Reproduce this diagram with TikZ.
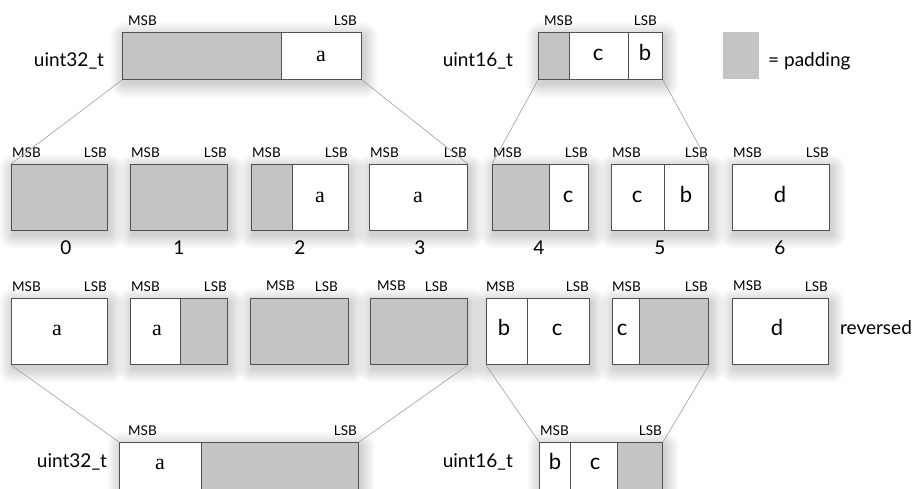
\documentclass[tikz,border=0pt]{standalone}
\usepackage{fontspec}
\setmainfont{Lato}
\newfontfamily\seriffont{Liberation Serif}
\usetikzlibrary{backgrounds}
\definecolor{pad}{HTML}{C4C4C4}
\definecolor{boxline}{HTML}{505050}
\definecolor{conn}{HTML}{A0A0A0}
\newcommand{\softshadow}[1]{%
  \foreach \k in {0,...,14}{%
    \fill[black, opacity=0.012, rounded corners=\k pt]
      ([xshift=2pt-\k pt, yshift=-4pt+\k pt]#1.north west) rectangle
      ([xshift=2pt+\k pt, yshift=-4pt-\k pt]#1.south east);
  }}
\begin{document}
\begin{tikzpicture}[x=1pt,y=-1pt,
  box/.style={draw=boxline, line width=1pt, fill=white, anchor=north west, inner sep=0pt},
  padcell/.style={draw=boxline, line width=1pt, fill=pad},
  divider/.style={draw=boxline, line width=1pt},
  conn/.style={draw=conn, line width=0.6pt},
  tag/.style={font=\fontsize{13.5}{13.5}\selectfont, inner sep=0pt},
  big/.style={font=\fontsize{19}{19}\selectfont, inner sep=0pt, anchor=base},
  let/.style={font=\fontsize{22}{22}\selectfont, inner sep=0pt, anchor=base},
  leta/.style={font=\seriffont\fontsize{22}{22}\selectfont, inner sep=0pt, anchor=base},
]
\useasboundingbox (0,0) rectangle (921,488);
\clip (0,0) rectangle (921,488);

% ---------- top row ----------
\node[box, minimum width=239pt, minimum height=47pt] (T32) at (122,32) {};
\draw[padcell] (122,32) rectangle (281,79);
\node[leta] (T32a) at (321,61) {a};
\node[big] (T32l) at (69,66) {uint32\_t};
\node[tag, anchor=west] (T32m) at (128,21) {MSB};
\node[tag, anchor=east] (T32s) at (357,21) {LSB};

\node[box, minimum width=124pt, minimum height=47pt] (T16) at (538,32) {};
\draw[padcell] (538,32) rectangle (569,79);
\draw[divider] (628,32) -- (628,79);
\node[let] (T16c) at (598,60) {c};
\node[let] (T16b) at (645,60) {b};
\node[big, anchor=base east] (T16l) at (513,66) {uint16\_t};
\node[tag, anchor=west] (T16m) at (544,21) {MSB};
\node[tag, anchor=east] (T16s) at (657,21) {LSB};

\node[fill=pad, minimum width=36pt, minimum height=47pt, inner sep=0pt, anchor=north west] (legend) at (723,32) {};
\node[big, anchor=base west] (legendt) at (768,66) {= padding};

% ---------- middle row ----------
\foreach \n/\x/\w in {B0/11/96, B1/130/97, B2/251/97, B3/369/98, B4/492/96, B5/611/97, B6/732/97}{
  \node[box, minimum width=\w pt, minimum height=66pt] (\n) at (\x,164) {};
  \node[tag, anchor=west] (\n m) at (\x+1,153) {MSB};
  \node[tag, anchor=east] (\n s) at (\x+\w,153) {LSB};
}
\draw[padcell] (11,164) rectangle (107,230);
\draw[padcell] (130,164) rectangle (227,230);
\draw[padcell] (251,164) rectangle (292,230);
\node[leta] (B2a) at (320,202) {a};
\node[leta] (B3a) at (418,202) {a};
\draw[padcell] (492,164) rectangle (549,230);
\node[let] (B4c) at (568,202) {c};
\draw[divider] (664,164) -- (664,230);
\node[let] (B5c) at (637,202) {c};
\node[let] (B5b) at (686,202) {b};
\node[let] (B6d) at (780,202) {d};

\foreach \n/\x in {0/66,1/179,2/300,3/420,4/539,5/660,6/780}{
  \node[big] (N\n) at (\x,254) {\n};
}

% ---------- reversed row ----------
\foreach \n/\x/\w in {R0/11/96, R1/130/97, R2/250/98, R3/370/97, R4/486/103, R5/612/96, R6/732/96}{
  \node[box, minimum width=\w pt, minimum height=66pt] (\n) at (\x,298) {};
}
\node[tag, anchor=west] (R0m) at (12,287) {MSB};
\node[tag, anchor=east] (R0s) at (107,287) {LSB};
\node[tag, anchor=west] (R1m) at (131,287) {MSB};
\node[tag, anchor=east] (R1s) at (227,287) {LSB};
\node[tag, anchor=west] (R2m) at (266,286) {MSB};
\node[tag, anchor=east] (R2s) at (338,287) {LSB};
\node[tag, anchor=west] (R3m) at (377,286) {MSB};
\node[tag, anchor=east] (R3s) at (448,287) {LSB};
\node[tag, anchor=west] (R4m) at (486,287) {MSB};
\node[tag, anchor=east] (R4s) at (589,287) {LSB};
\node[tag, anchor=west] (R5m) at (612,287) {MSB};
\node[tag, anchor=east] (R5s) at (708,287) {LSB};
\node[tag, anchor=west] (R6m) at (733,286) {MSB};
\node[tag, anchor=east] (R6s) at (828,287) {LSB};

\node[leta] (R0a) at (57,335) {a};
\draw[padcell] (180,298) rectangle (227,364);
\node[leta] (R1a) at (157,335) {a};
\draw[padcell] (250,298) rectangle (348,364);
\draw[padcell] (370,298) rectangle (467,364);
\draw[divider] (527,298) -- (527,364);
\node[let] (R4b) at (504,335) {b};
\node[let] (R4c) at (557,335) {c};
\draw[padcell] (639,298) rectangle (708,364);
\node[let] (R5c) at (622,335) {c};
\node[let] (R6d) at (777,335) {d};
\node[big, anchor=base west] (rev) at (840,334) {reversed};

% ---------- bottom row ----------
\node[box, minimum width=239pt, minimum height=70pt] (U32) at (119,442) {};
\draw[padcell] (201,442) rectangle (358,512);
\node[leta] (U32a) at (160,469) {a};
\node[big] (U32l) at (72,467) {uint32\_t};
\node[tag, anchor=west] (U32m) at (128,431) {MSB};
\node[tag, anchor=east] (U32s) at (357,431) {LSB};

\node[box, minimum width=123pt, minimum height=70pt] (U16) at (539,442) {};
\draw[divider] (570,442) -- (570,512);
\draw[padcell] (617,442) rectangle (662,512);
\node[let] (U16b) at (555,469) {b};
\node[let] (U16c) at (595,469) {c};
\node[big, anchor=base east] (U16l) at (513,467) {uint16\_t};
\node[tag, anchor=west] (U16m) at (540,431) {MSB};
\node[tag, anchor=east] (U16s) at (662,431) {LSB};

% ---------- connectors ----------
\draw[conn] (T32.south west) -- (B0.north west);
\draw[conn] (T32.south east) -- (B3.north east);
\draw[conn] (T16.south west) -- (B4.north west);
\draw[conn] (T16.south east) -- (B5.north east);
\draw[conn] (R0.south west) -- (U32.north west);
\draw[conn] (R3.south east) -- (U32.north east);
\draw[conn] (R4.south west) -- (U16.north west);
\draw[conn] (R5.south east) -- (U16.north east);

% ---------- soft shadows ----------
\begin{pgfonlayer}{background}
  \fill[white] (0,0) rectangle (921,488);
  \foreach \s in {T32,T16,B0,B1,B2,B3,B4,B5,B6,R0,R1,R2,R3,R4,R5,R6,U32,U16}{
    \softshadow{\s}
  }
\end{pgfonlayer}
\end{tikzpicture}
\end{document}
